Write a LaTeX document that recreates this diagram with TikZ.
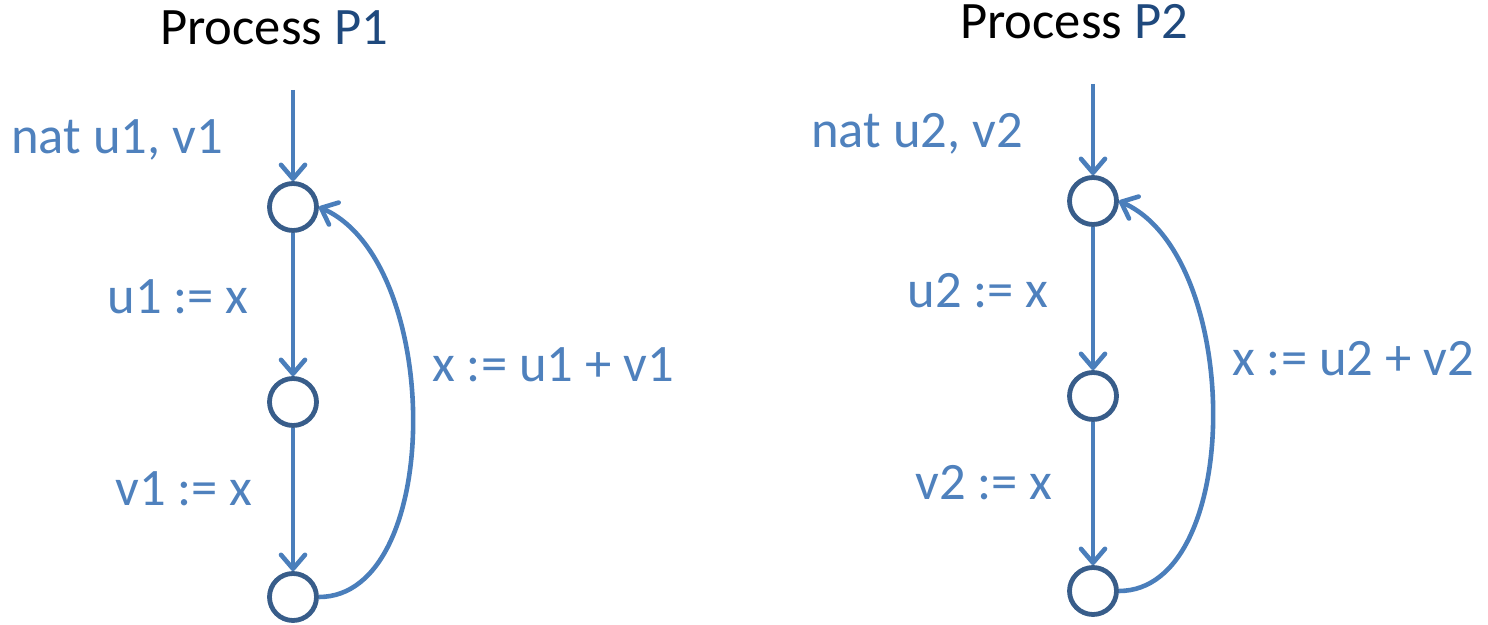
\documentclass[tikz,border=0pt]{standalone}
\usepackage{fontspec}
\setmainfont{Carlito}
\usetikzlibrary{arrows.meta}
\definecolor{edgeblue}{HTML}{4A7EBB}
\definecolor{ringblue}{HTML}{385D8A}
\definecolor{labelblue}{HTML}{4F81BD}
\definecolor{procblue}{HTML}{1F497D}
\tikzset{
  state/.style={circle,draw=ringblue,line width=2.4pt,minimum size=23.5pt,inner sep=0pt},
  trans/.style={edgeblue,line width=2.3pt,-{Straight Barb[length=7pt,width=12pt,round]}},
  lbl/.style={text=labelblue,inner sep=0pt},
}
\begin{document}
\begin{tikzpicture}[x=0.5pt,y=-0.5pt,font=\fontsize{26.3}{30}\selectfont]
  \useasboundingbox (0,0) rectangle (1488,625);
  % process index / x of states / y of first state
  \foreach \p/\sx/\sy in {1/293/207,2/1093/201}{
    \begin{scope}[shift={(\sx,\sy)}]
      \node[inner sep=0pt] (title\p) at (-19,-179) {Process {\color{procblue}P\p}};
      \coordinate (in\p) at (0,-117);
      \node[state] (s\p a) at (0,0) {};
      \node[state] (s\p b) at (0,195) {};
      \node[state] (s\p c) at (0,390) {};
      \node[lbl] (decl\p) at (-176,-67) {nat u\p, v\p};
      \node[lbl] (rdu\p) at (-115,90) {u\p\ := x};
      \node[lbl] (rdv\p) at (-109,282) {v\p\ := x};
      \node[lbl] (wrx\p) at (260,158) {x := u\p\ + v\p};
      \draw[trans] (in\p) -- (s\p a);
      \draw[trans] (s\p a) -- (s\p b);
      \draw[trans] (s\p b) -- (s\p c);
      \draw[trans] (s\p c.east) .. controls +(125,0) and +(125,55) .. (s\p a.east);
    \end{scope}
  }
\end{tikzpicture}
\end{document}
